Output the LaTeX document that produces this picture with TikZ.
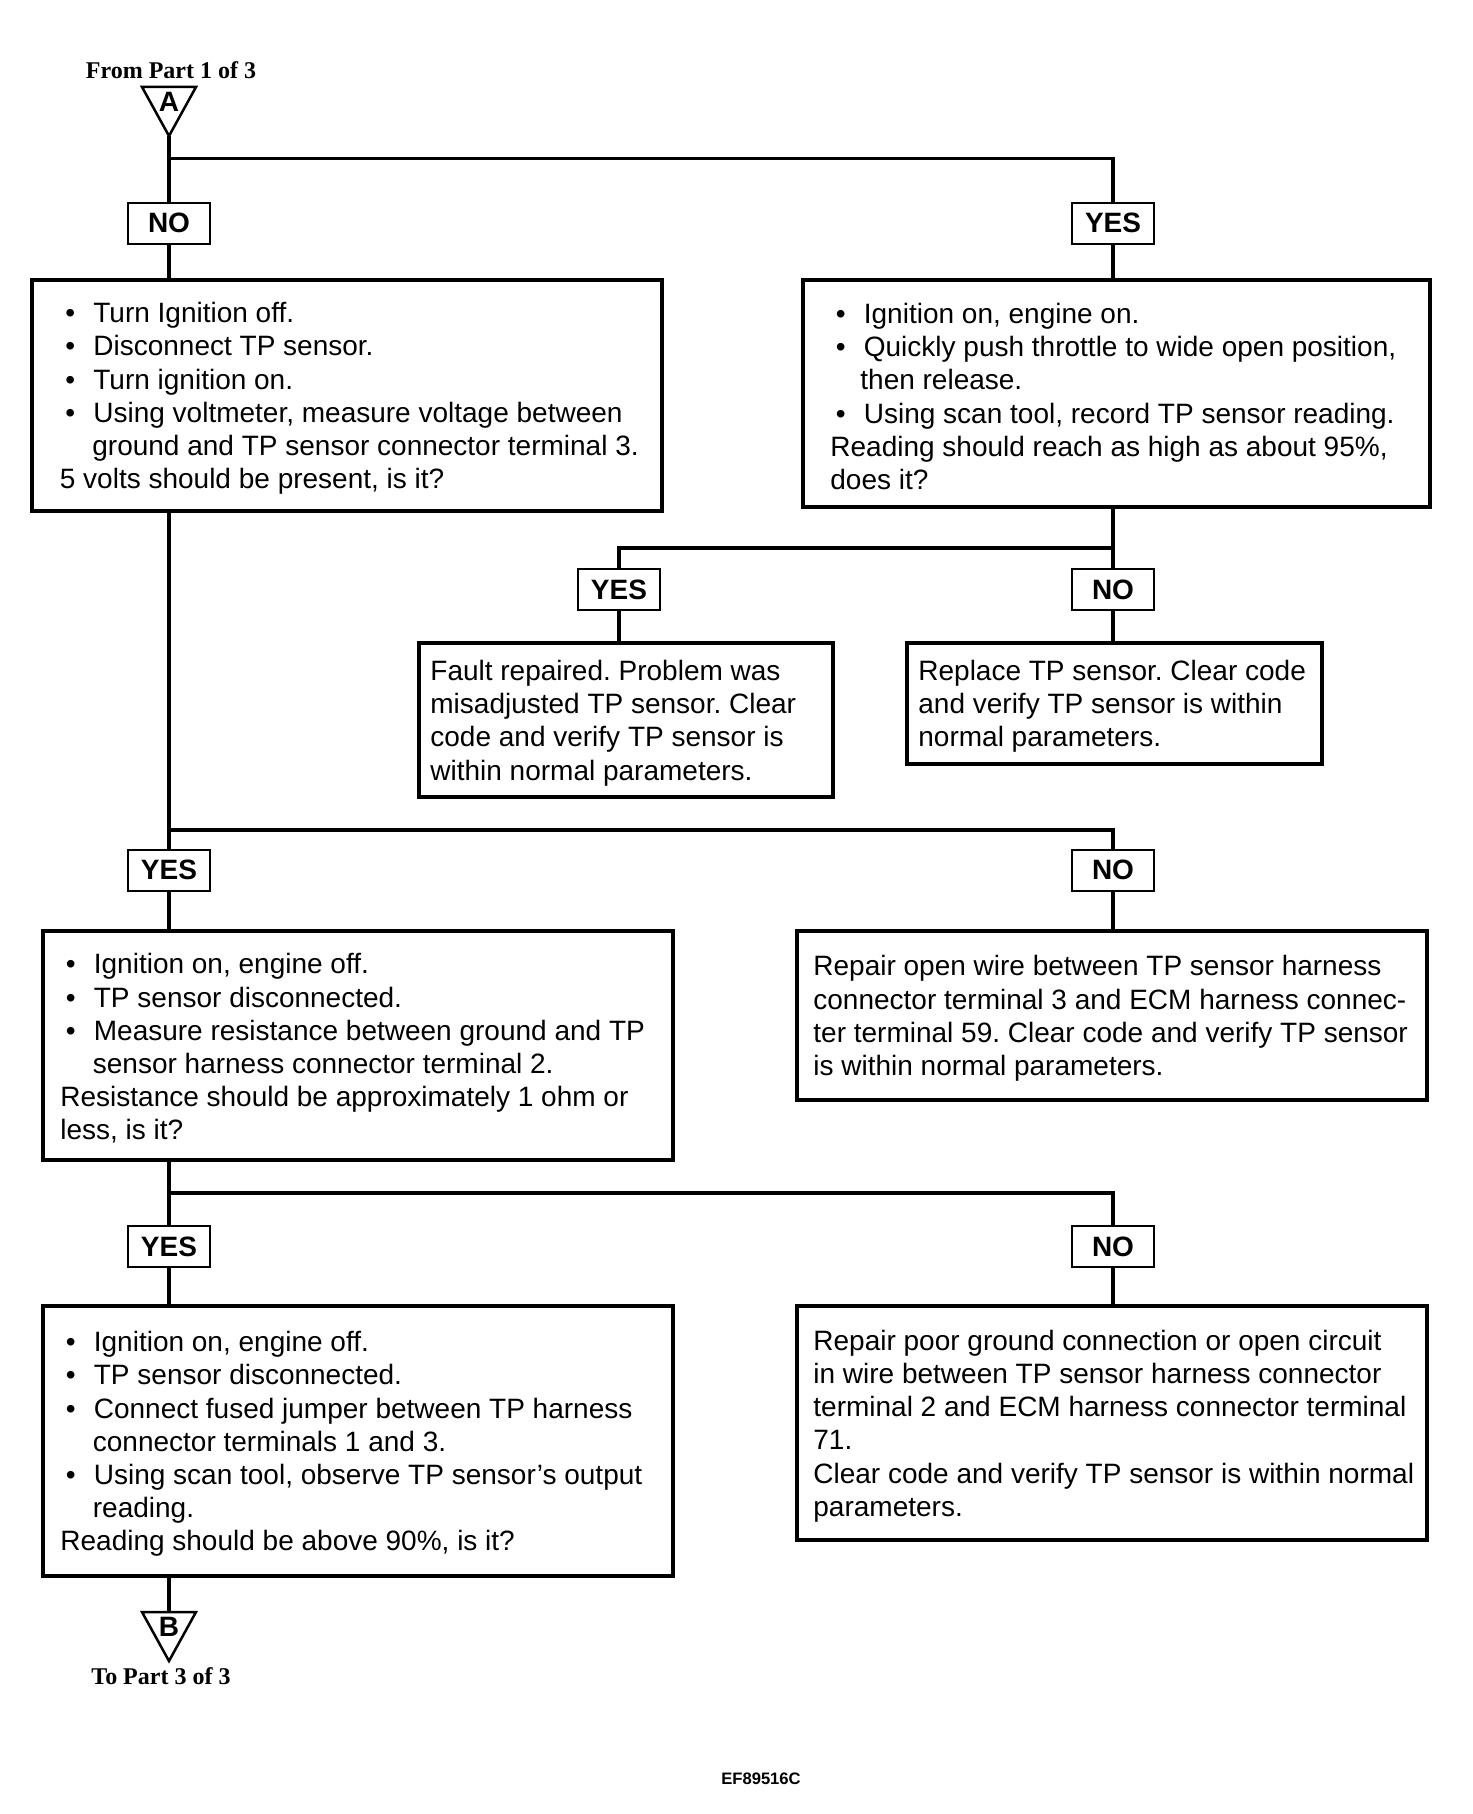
\documentclass[tikz,border=0pt]{standalone}
\usepackage{fontspec}
\setmainfont{Liberation Sans}
\newfontfamily\serifbold{Liberation Serif}
\usetikzlibrary{calc,fit}
\frenchspacing
\tikzset{
  bigbox/.style={draw, line width=2pt, inner sep=0pt},
  lbl/.style={draw, line width=1pt, minimum width=41pt, minimum height=20.5pt, inner sep=0pt, font=\fontsize{14}{16}\selectfont\bfseries},
  txt/.style={inner sep=0pt, align=left, font=\fontsize{14}{16.6}\selectfont, anchor=west, yshift=-1.5pt},
  conn/.style={line width=1.75pt},
  tri/.style={line width=1.25pt, line join=miter},
  letter/.style={inner sep=0pt, font=\fontsize{14}{16}\selectfont\bfseries},
  partlbl/.style={inner sep=0pt, font=\serifbold\bfseries\fontsize{12}{14}\selectfont},
}
\newcommand{\bl}[1]{\hspace*{2.75pt}\makebox[14pt][l]{\textbullet}#1}
\newcommand{\ind}{\hspace*{16.25pt}}
\begin{document}
\begin{tikzpicture}[x=0.5pt,y=-0.5pt]
\useasboundingbox[fill=white] (0,0) rectangle (1472,1814);

% top connector A
\node[partlbl] (from) at (171,70) {From Part 1 of 3};
\coordinate (Atop) at (169,87);
\coordinate (Aapex) at (169,136);
\draw[tri] (142,87) -- (196,87) -- (Aapex) -- cycle;
\node[letter] (Alet) at (169,102) {A};

% first decision
\coordinate (j1) at (169,158.5);
\node[lbl] (no1) at (169,223) {NO};
\node[lbl] (yes1) at (1113,223) {YES};
\draw[conn] (Aapex) -- (j1) -- (no1.north);
\draw[conn] (j1) -| (yes1.north);

\node[bigbox, fit={(32,280) (662,511)}] (b1) {};
\node[txt] (t1) at ($(b1.west)+(29.5,0)$) {%
\bl{Turn Ignition off.}\\
\bl{Disconnect TP sensor.}\\
\bl{Turn ignition on.}\\
\bl{Using voltmeter, measure voltage between}\\
\ind ground and TP sensor connector terminal 3.\\
5 volts should be present, is it?};

\node[bigbox, fit={(803,280) (1430,507)}] (b2) {};
\node[txt] (t2) at ($(b2.west)+(29,0)$) {%
\bl{Ignition on, engine on.}\\
\bl{Quickly push throttle to wide open position,}\\
\hspace*{15pt}then release.\\
\bl{Using scan tool, record TP sensor reading.}\\
Reading should reach as high as about 95\%,\\
does it?};

\draw[conn] (no1.south) -- (no1.south |- b1.north);
\draw[conn] (yes1.south) -- (yes1.south |- b2.north);

% second decision (right)
\coordinate (j2) at (1113,548);
\node[lbl] (yes2) at (619,589.5) {YES};
\node[lbl] (no2) at (1113,589.5) {NO};
\draw[conn] (j2 |- b2.south) -- (j2) -| (yes2.north);
\draw[conn] (j2) -- (no2.north);

\node[bigbox, fit={(419,643) (833,797)}] (fault) {};
\node[txt] (tf) at ($(fault.west)+(13,0)$) {%
Fault repaired. Problem was\\
misadjusted TP sensor. Clear\\
code and verify TP sensor is\\
within normal parameters.};

\node[bigbox, fit={(907,643) (1322,764)}] (repl) {};
\node[txt] (tr) at ($(repl.west)+(13,0)$) {%
Replace TP sensor. Clear code\\
and verify TP sensor is within\\
normal parameters.};

\draw[conn] (yes2.south) -- (yes2.south |- fault.north);
\draw[conn] (no2.south) -- (no2.south |- repl.north);

% third decision
\coordinate (j3) at (169,830);
\node[lbl] (yes3) at (169,870) {YES};
\node[lbl] (no3) at (1113,870) {NO};
\draw[conn] (j3 |- b1.south) -- (j3) -- (yes3.north);
\draw[conn] (j3) -| (no3.north);

\node[bigbox, fit={(43,931) (673,1160)}] (b3) {};
\node[txt] (t3) at ($(b3.west)+(19,0)$) {%
\bl{Ignition on, engine off.}\\
\bl{TP sensor disconnected.}\\
\bl{Measure resistance between ground and TP}\\
\ind sensor harness connector terminal 2.\\
Resistance should be approximately 1 ohm or\\
less, is it?};

\node[bigbox, fit={(797,931) (1427,1100)}] (ropen) {};
\node[txt] (tro) at ($(ropen.west)+(18,0)$) {%
Repair open wire between TP sensor harness\\
connector terminal 3 and ECM harness connec-\\
ter terminal 59. Clear code and verify TP sensor\\
is within normal parameters.};

\draw[conn] (yes3.south) -- (yes3.south |- b3.north);
\draw[conn] (no3.south) -- (no3.south |- ropen.north);

% fourth decision
\coordinate (j4) at (169,1193);
\node[lbl] (yes5) at (169,1246.5) {YES};
\node[lbl] (no5) at (1113,1246.5) {NO};
\draw[conn] (j4 |- b3.south) -- (j4) -- (yes5.north);
\draw[conn] (j4) -| (no5.north);

\node[bigbox, fit={(43,1306) (673,1576)}] (b5) {};
\node[txt] (t5) at ($(b5.west)+(19,0)$) {%
\bl{Ignition on, engine off.}\\
\bl{TP sensor disconnected.}\\
\bl{Connect fused jumper between TP harness}\\
\ind connector terminals 1 and 3.\\
\bl{Using scan tool, observe TP sensor's output}\\
\ind reading.\\
Reading should be above 90\%, is it?};

\node[bigbox, fit={(797,1306) (1427,1540)}] (rpoor) {};
\node[txt] (trp) at ($(rpoor.west)+(18,0)$) {%
Repair poor ground connection or open circuit\\
in wire between TP sensor harness connector\\
terminal 2 and ECM harness connector terminal\\
71.\\
Clear code and verify TP sensor is within normal\\
parameters.};

\draw[conn] (yes5.south) -- (yes5.south |- b5.north);
\draw[conn] (no5.south) -- (no5.south |- rpoor.north);

% bottom connector B
\coordinate (Btop) at (169,1612);
\coordinate (Bapex) at (169,1661);
\draw[conn] (Btop |- b5.south) -- (Btop);
\draw[tri] (142,1612) -- (196,1612) -- (Bapex) -- cycle;
\node[letter] (Blet) at (169,1627) {B};
\node[partlbl] (to) at (161,1676) {To Part 3 of 3};

\node[inner sep=0pt, font=\fontsize{8.3}{10}\selectfont\bfseries] (code) at (761,1779) {EF89516C};
\end{tikzpicture}
\end{document}
